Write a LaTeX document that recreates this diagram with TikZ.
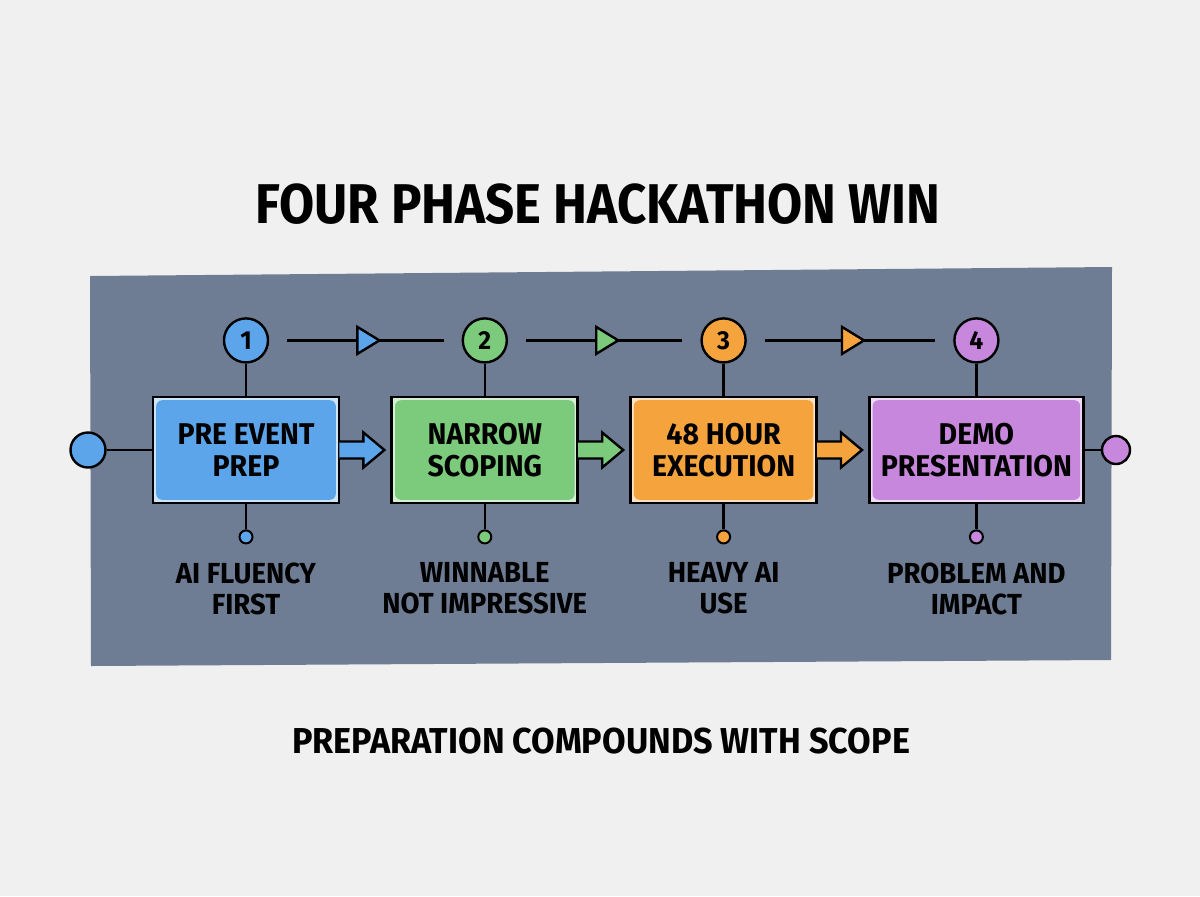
\documentclass[tikz,border=0pt]{standalone}
\usepackage{fontspec}
\setmainfont[FakeStretch=0.95]{Fira Sans}
\newfontfamily\titlefont[FakeStretch=0.91]{Fira Sans}
\usepackage{xcolor}
\usepackage{tikz}
\usetikzlibrary{positioning,calc}

\definecolor{pagebg}{HTML}{F0F0F0}
\definecolor{slate}{HTML}{6E7D94}
\definecolor{cblue}{HTML}{5CA5EA}
\definecolor{cgreen}{HTML}{7CCA7B}
\definecolor{corange}{HTML}{F5A33D}
\definecolor{cpurple}{HTML}{C687DD}

\begin{document}
\begin{tikzpicture}[
  x=0.5pt, y=-0.5pt,
  phase/.style={draw, line width=1.4pt, fill=white!70!#1, minimum width=93pt, minimum height=53pt,
    align=center, inner sep=2pt, font=\fontsize{15}{16}\selectfont\bfseries,
    path picture={\fill[#1, rounded corners=3pt] ([shift={(1.6pt,1.6pt)}]path picture bounding box.south west)
      rectangle ([shift={(-1.6pt,-1.6pt)}]path picture bounding box.north east);}},
  num/.style={circle, draw, line width=1.2pt, fill=#1, minimum size=22pt, inner sep=0pt,
    font=\fontsize{13}{13}\selectfont\bfseries},
  dot/.style={circle, draw, line width=1pt, fill=#1, minimum size=6.5pt, inner sep=0pt},
  endpt/.style={circle, draw, line width=1.2pt, fill=#1, inner sep=0pt},
  lab/.style={align=center, inner sep=0pt, font=\fontsize{14.5}{15.5}\selectfont\bfseries},
  link/.style={line width=1.1pt, shorten >=9pt, shorten <=9pt},
  stem/.style={line width=1.2pt},
  bar/.style={line width=1.2pt, line join=miter}]
  % page and panel
  \fill[pagebg] (0,0) rectangle (1200,896);
  \useasboundingbox (0,0) rectangle (1200,896);
  \fill[slate] (90,276) -- (1112,267) -- (1111,660) -- (91,666) -- cycle;
  \node[font=\titlefont\fontsize{28}{28}\selectfont\bfseries] (title) at (598,204) {FOUR PHASE HACKATHON WIN};
  \node[font=\fontsize{18}{18}\selectfont\bfseries] (caption) at (601,741) {PREPARATION COMPOUNDS WITH SCOPE};

  % phases
  \node[phase=cblue] (b1) at (246,450) {PRE EVENT\\PREP};
  \node[phase=cgreen, right=25pt of b1] (b2) {NARROW\\SCOPING};
  \node[phase=corange, right=25pt of b2] (b3) {48 HOUR\\EXECUTION};
  \node[phase=cpurple, right=25pt of b3, minimum width=107pt] (b4) {DEMO\\PRESENTATION};

  \node[num=cblue, above=16pt of b1] (n1) {1};
  \node[num=cgreen, above=16pt of b2] (n2) {2};
  \node[num=corange, above=16pt of b3] (n3) {3};
  \node[num=cpurple, above=16pt of b4] (n4) {4};

  \node[dot=cblue, below=12.5pt of b1] (d1) {};
  \node[dot=cgreen, below=12.5pt of b2] (d2) {};
  \node[dot=corange, below=12.5pt of b3] (d3) {};
  \node[dot=cpurple, below=12.5pt of b4] (d4) {};

  \node[lab, below=9pt of d1] (l1) {AI FLUENCY\\FIRST};
  \node[lab, below=9pt of d2] (l2) {WINNABLE\\NOT IMPRESSIVE};
  \node[lab, below=9pt of d3] (l3) {HEAVY AI\\USE};
  \node[lab, below=9pt of d4] (l4) {PROBLEM AND\\IMPACT};

  \node[endpt=cblue, minimum size=17.5pt] (start) at (88,450) {};
  \node[endpt=cpurple, minimum size=14pt] (stop) at (1116,450) {};
  \draw[stem] (start) -- (b1); \draw[stem] (b4) -- (stop);

  \foreach \i in {1,2,3,4} {
    \draw[stem] (n\i) -- (b\i);
    \draw[stem] (b\i) -- (d\i);
  }

  % timeline with triangles
  \foreach \a/\b/\c in {1/2/cblue, 2/3/cgreen, 3/4/corange} {
    \draw[link] (n\a) -- coordinate[pos=0.5] (m\a) (n\b);
    \filldraw[fill=\c, bar] ($(m\a)+(-8,-13.5)$) -- ++(22,13.5) -- ++(-22,13.5) -- cycle;
  }

  % block arrows out of the boxes
  \foreach \a/\c in {b1/cblue, b2/cgreen, b3/corange}
    \filldraw[fill=\c, bar] ($(\a.east)+(-1,-8.5)$) -- ++(24,0) -- ++(0,-9) -- ++(21,17.5)
      -- ++(-21,17.5) -- ++(0,-9) -- ++(-24,0);
\end{tikzpicture}
\end{document}
